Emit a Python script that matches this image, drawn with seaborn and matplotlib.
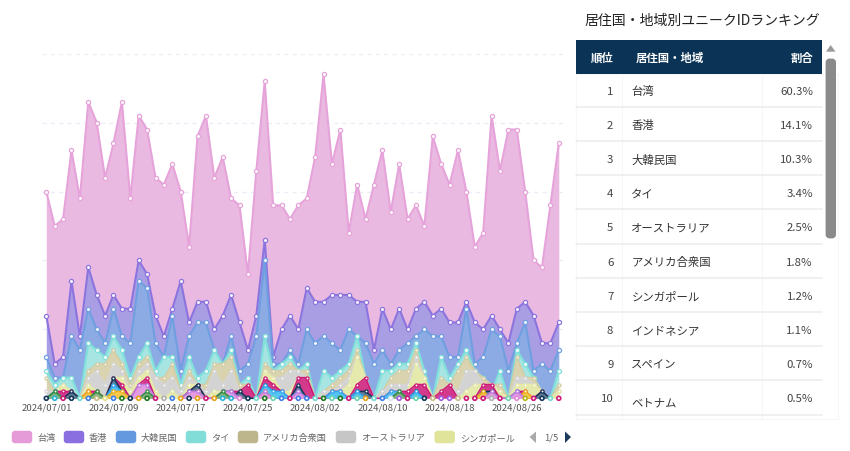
import numpy as np
import pandas as pd
import matplotlib
matplotlib.use("Agg")
import matplotlib.pyplot as plt
from matplotlib.patches import FancyBboxPatch, Rectangle, Polygon
import seaborn as sns

# ---------- data ----------
dates = pd.date_range("2024-07-01", "2024-08-31").strftime("%Y/%m/%d").tolist()

# stacked levels (top of every band)
taiwan_level = [30,25,26,36,29,43,40,32,37,43, 29,41,39,32,31,34,30,22,38,41,
                32,35,29,28,18,33,46,28,28,26, 28,29,35,47,34,39,24,31,26,31,
                36,27,34,26,28,25,38,34,31,36, 30,22,24,41,33,39,39,30,20,19, 28,37]
hongkong_level = [12,5,6,17,9,19,15,12,15,13, 13,20,18,12,9,13,17,11,14,14,
                  10,12,15,11,7,12,23,6,10,12, 10,16,14,14,15,15,15,14,14,7,
                  13,10,13,10,13,14,12,13,11,11, 14,11,10,12,10,8,13,14,12,8, 8,11]
korea_level = [6,3,3,9,7,13,10,8,13,9, 8,17,16,8,6,12,4,9,11,11,
               7,5,9,4,5,9,20,5,5,7, 5,10,8,9,8,7,10,9,8,5,
               7,5,7,8,9,10,9,9,6,6, 13,5,6,10,9,4,8,11,4,5, 4,7]
thai_level = [4,2,3,3,0,8,7,6,9,7, 3,6,8,4,6,6,2,6,3,4,
              7,5,7,2,3,0,9,4,5,6, 4,5,0,4,3,4,5,9,3,0,
              4,4,5,5,8,4,0,6,3,5, 7,4,3,1,4,0,7,5,3,1, 0,4]
america_level = [3,1,2,1,0,4,5,5,7,5, 2,5,6,3,3,5,1,4,2,2,
                 5,5,6,2,2,0,5,4,4,5, 4,4,0,1,2,3,4,7,3,0,
                 1,3,4,4,7,3,0,3,2,4, 6,4,3,2,2,0,6,3,3,1, 0,2]
australia_level = [1,1,2,1,0,3,4,2,5,4, 1,4,5,3,2,3,1,3,2,1,
                   4,2,4,1,2,0,4,3,3,4, 4,3,0,1,1,2,3,6,3,0,
                   1,2,2,2,6,3,0,1,2,1, 4,4,2,2,1,0,3,3,2,1, 0,1]
singapore_level = [0,1,2,1,0,2,1,0,3,3, 1,3,4,1,0,1,0,2,2,0,
                   1,1,1,1,2,0,4,3,1,1, 3,3,0,0,1,1,2,6,3,0,
                   0,1,1,1,5,3,0,1,2,0, 1,2,2,2,1,0,2,2,2,1, 0,1]
crimson_level = [0,1,1,1,0,1,1,0,3,2, 0,2,3,0,0,0,0,1,2,0,
                 0,1,1,1,2,0,3,2,1,0, 3,3,0,0,1,1,0,2,3,0,
                 0,1,1,1,2,2,0,1,2,0, 0,0,2,2,0,0,1,1,0,1, 0,0]
navy_level = [0,0,0,1,0,0,0,0,3,1, 0,1,1,0,0,0,0,1,2,0,
              0,0,0,1,0,0,2,1,0,0, 2,0,0,0,0,0,0,1,1,0,
              0,0,0,0,1,0,0,0,0,0, 0,0,1,1,0,0,0,0,0,1, 0,0]
sky_level = [0,1,0,0,0,0,0,0,2,1, 0,1,1,0,0,0,0,0,0,0,
             0,1,1,0,0,0,2,1,1,0, 1,0,0,0,1,1,0,1,0,0,
             0,1,1,0,1,0,0,0,0,0, 0,0,0,0,0,0,1,0,0,0, 0,0]
orange_level = [0,0,0,0,0,1,0,0,1,1, 0,0,1,0,0,0,0,0,1,0,
                0,0,0,0,0,0,1,0,0,0, 0,0,0,0,0,0,0,0,0,0,
                0,0,0,0,0,0,0,0,0,0, 0,0,1,0,0,0,0,1,0,0, 0,0]
purple_level = [0,0,0,0,0,0,0,0,0,0, 0,2,2,0,0,0,0,1,1,0,
                0,1,1,0,0,0,1,0,0,0, 1,0,0,0,0,0,0,0,0,0,
                0,0,1,0,0,0,0,0,0,0, 0,0,0,1,0,0,1,0,0,0, 0,0]
green_level = [0,1,0,0,0,0,1,0,0,0, 0,0,1,0,0,0,0,0,0,0,
               0,1,0,0,0,0,0,0,0,0, 0,0,0,0,0,0,0,0,0,0,
               0,0,1,0,0,0,0,0,0,0, 0,0,0,0,0,0,0,0,0,0, 0,0]

# the smallest series present on each day, sitting on the baseline
baseline_series = ["navy","sky","crimson","navy","teal","blue","tan","yellow","blue","green",
                   "navy","orange","green","crimson","gray","blue","orange","navy","orange","crimson",
                   "orange","sky","sky","pink","navy","teal","green","mint","blue","crimson",
                   "blue","blue","teal","green","mint","green","crimson","mint","orange","teal",
                   "blue","white","purple","crimson","mint","navy","tan","purple","purple","tan",
                   "crimson","crimson","crimson","gray","crimson","mint","pink","olive","crimson","navy",
                   "teal","crimson"]

tick_every = 8
legend_names = ["台湾","香港","大韓民国","タイ","アメリカ合衆国","オーストラリア","シンガポール"]
legend_colors = ["#e59bd8","#8a6fe0","#6499e0","#82dcd8","#bdb58b","#c6c6c6","#e0e49b"]

ranks = [1,2,3,4,5,6,7,8,9,10]
countries = ["台湾","香港","大韓民国","タイ","オーストラリア","アメリカ合衆国","シンガポール","インドネシア","スペイン","ベトナム"]
shares = ["60.3%","14.1%","10.3%","3.4%","2.5%","1.8%","1.2%","1.1%","0.7%","0.5%"]

# ---------- styles ----------
FONT = ["Noto Sans CJK JP", "DejaVu Sans"]
sns.set_theme(style="white")
plt.rcParams["font.family"] = FONT

bands = [
    (taiwan_level,    "#e6a3da", "#eab9e1"),
    (hongkong_level,  "#8c74de", "#a99de4"),
    (korea_level,     "#6f9fe0", "#8cabe4"),
    (thai_level,      "#80e0da", "#a6e5e1"),
    (america_level,   "#d3cca4", "#d9d3b0"),
    (australia_level, "#d4d4d4", "#d3d3d3"),
    (singapore_level, "#e6e9a8", "#e6e9ac"),
    (crimson_level,   "#cc1a78", "#d43a8c"),
    (navy_level,      "#12385c", "#5d7a92"),
    (sky_level,       "#35a8f0", "#55c4f0"),
    (orange_level,    "#f2b01e", "#f7c84a"),
    (purple_level,    "#c07be0", "#e39ae0"),
    (green_level,     "#2f8f3c", "#7fb27f"),
]
base_colors = dict(navy="#12385c", sky="#29b6d8", crimson="#cc1a78", teal="#70dcd0", blue="#3f7fe8",
                   tan="#c9bf8c", yellow="#e6e08a", green="#1f7a1f", orange="#e8a21a", gray="#b0b0b0",
                   pink="#e48ad8", mint="#6fd6b0", white="#d8e8ee", purple="#a45ce8", olive="#b5b51a")

# ---------- figure ----------
fig = plt.figure(figsize=(8.5, 4.52), dpi=100, facecolor="white")
ax = fig.add_axes([42/850, (452-399.3)/452, (563-42)/850, (399.3-54.7)/452])
days = np.arange(len(dates))

for gv in [10, 20, 30, 40, 50]:
    ax.axhline(gv, color="#ececf8", lw=1, ls=(0, (3, 3)), zorder=0)

for k, (level, line_c, fill_c) in enumerate(bands):
    y = np.asarray(level, dtype=float)
    lower = np.asarray(bands[k+1][0], dtype=float) if k < 7 else np.zeros_like(y)
    z = 2 + k
    ax.fill_between(days, lower, y, color=fill_c, lw=0, zorder=z)
    keep = (y > 0) | (np.r_[y[1:], 0] > 0) | (np.r_[0, y[:-1]] > 0)
    idx = np.where(keep)[0]
    runs = np.split(idx, np.where(np.diff(idx) > 1)[0] + 1) if len(idx) else []
    for run in runs:
        if len(run) > 1:
            sns.lineplot(x=days[run], y=y[run], ax=ax, color=line_c, lw=1.5 if k < 4 else 1.1, sort=False,
                         errorbar=None, zorder=z + 0.1, clip_on=False, legend=False)
    on = y > 0
    sns.scatterplot(x=days[on], y=y[on], ax=ax, s=9 if k < 4 else 5, facecolor="#ffffff", edgecolor=line_c,
                    linewidth=0.9, zorder=z + 0.2, clip_on=False, legend=False)

ax.scatter(days, np.zeros(len(days)), s=8, facecolor="white",
           edgecolor=[base_colors[b] for b in baseline_series], linewidth=1.2, zorder=30, clip_on=False)

ax.set_xlim(-0.51, 61.5)
ax.set_ylim(0, 50)
ax.set_yticks([])
ax.set_xticks(days[::tick_every])
ax.set_xticklabels(dates[::tick_every], fontsize=6.9, color="#555555", family=FONT)
ax.tick_params(axis="x", length=0, pad=3)
ax.set_xlabel(""); ax.set_ylabel("")
sns.despine(ax=ax, left=True, bottom=True)

# ---------- overlay in pixel coordinates: legend + ranking table ----------
ov = fig.add_axes([0, 0, 1, 1], zorder=50)
ov.set_xlim(0, 850); ov.set_ylim(452, 0); ov.axis("off"); ov.patch.set_alpha(0)

legend_box_x = [12, 64, 116, 186, 238, 336, 434.7]
for bx, nm, c in zip(legend_box_x, legend_names, legend_colors):
    ov.add_patch(FancyBboxPatch((bx+1.5, 433.5), 17, 9, boxstyle="round,pad=0,rounding_size=1.5",
                                mutation_aspect=1, fc=c, ec=c, lw=2.5))
    ov.text(bx + 25, 438.3, nm, fontsize=6.6, color="#666666", va="center", ha="left")
ov.add_patch(Polygon([[529.5, 438], [536, 432.5], [536, 444]], closed=True, fc="#aaaaaa", ec="none"))
ov.text(551, 438.3, "1/5", fontsize=6.8, color="#666666", va="center", ha="center")
ov.add_patch(Polygon([[565, 432.5], [571, 438], [565, 444]], closed=True, fc="#1b3a5c", ec="none"))

ov.text(702.5, 21, "居住国・地域別ユニークIDランキング", fontsize=10, color="#222222", ha="center", va="center")

T_L, T_R, HEAD_T, HEAD_B, ROW_H = 576.3, 821.7, 40.5, 74.5, 34.2
ov.add_patch(Rectangle((T_L, 74.5), 838 - T_L, 420 - 74.5, fc="white", ec="#f7f7f7", lw=0.8))
ov.add_patch(Rectangle((T_L, HEAD_T), T_R - T_L, HEAD_B - HEAD_T, fc="#0b3356", ec="none"))
for vx in [622.3, 762.3]:
    ov.plot([vx, vx], [HEAD_B, 420], color="#f7f7f7", lw=0.8)
ov.text(601.7, 58, "順位", fontsize=8.2, color="white", weight="bold", ha="center", va="center")
ov.text(635.7, 58, "居住国・地域", fontsize=8.2, color="white", weight="bold", ha="left", va="center")
ov.text(813, 58, "割合", fontsize=8.2, color="white", weight="bold", ha="right", va="center")
for i, (r, nm, sh) in enumerate(zip(ranks, countries, shares)):
    cy = 91.7 + i * ROW_H
    ov.plot([T_L, T_R], [HEAD_B + (i + 1) * ROW_H - 1, HEAD_B + (i + 1) * ROW_H - 1], color="#ededed", lw=1.2)
    ov.text(613.3, cy, str(r), fontsize=8.2, color="#444444", ha="right", va="center")
    ov.text(631.3, cy + (3.5 if i == 9 else 0), nm, fontsize=8.2, color="#333333", ha="left", va="center")
    ov.text(813, cy, sh, fontsize=8.2, color="#444444", ha="right", va="center")

ov.add_patch(Polygon([[826, 52.7], [830.7, 46], [835.5, 52.7]], closed=True, fc="#9a9a9a", ec="none"))
ov.add_patch(FancyBboxPatch((827, 61), 7.6, 177, boxstyle="round,pad=0,rounding_size=2.5",
                            fc="#8a8a8a", ec="#8a8a8a", lw=2))

fig.savefig("out.png", dpi=100)
